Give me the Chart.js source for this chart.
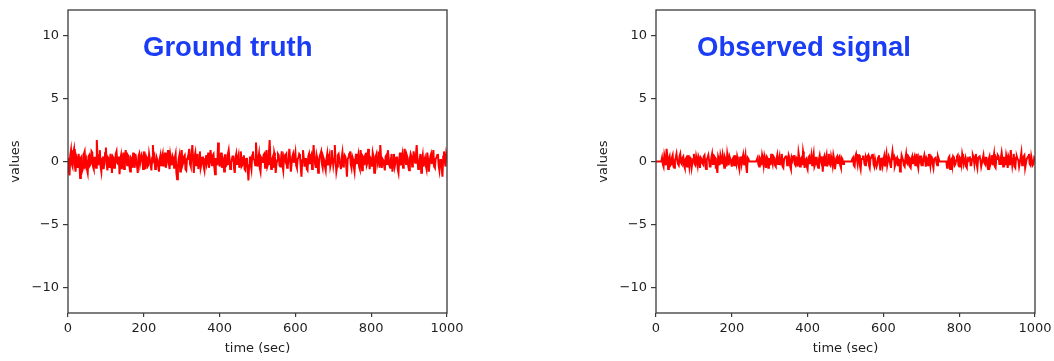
<!DOCTYPE html>
<html>
<head>
<meta charset="utf-8">
<script src="https://cdn.jsdelivr.net/npm/chart.js@4.4.0/dist/chart.umd.min.js"></script>
<style>
  html, body { margin: 0; padding: 0; background: #ffffff; }
  body { width: 1054px; height: 361px; position: relative; overflow: hidden; }
  canvas { position: absolute; top: 0; }
  #c1 { left: 0; }
  #c2 { left: 588px; }
</style>
</head>
<body>
<canvas id="c1" width="480" height="361"></canvas>
<canvas id="c2" width="466" height="361"></canvas>
<script>
// ---- data (one sample every 2 sec) ----
const timeStep = 2;
const groundTruth = [
  0.3,-0.6,-1.1,0.5,0.9,-0.2,-0.4,0.7,1.0,-0.3,-0.8,0.4,0.2,-0.5,0.6,0.1,-1.3,0.3,0.4,-0.7,
  -0.5,0.6,0.8,-0.2,0.1,-0.6,-0.9,0.4,0.5,-0.3,-0.2,0.8,0.7,-0.4,-0.6,0.3,0.3,-0.5,1.7,0.2,
  -0.3,0.5,0.9,-0.4,-0.8,0.2,0.4,-0.6,-0.1,0.7,1.1,-0.2,-0.7,0.3,0.2,-0.5,0.6,0.1,-0.9,0.4,
  0.3,-0.5,-0.4,0.6,0.8,-0.1,-0.2,0.4,-1.0,0.2,0.5,-0.6,0.1,0.7,-0.6,-0.2,0.9,0.3,-0.3,0.5,
  0.4,-0.4,-0.8,0.3,0.2,-0.5,0.7,0.1,-0.5,0.6,0.1,-0.3,-0.9,0.4,0.6,-0.2,-0.2,0.5,0.3,-0.6,
  0.8,0.1,-0.6,0.4,0.2,-0.4,-0.3,0.6,0.6,-0.2,-0.7,0.3,1.3,0.2,0.4,-0.6,-0.5,0.3,0.1,-0.4,
  -0.8,0.2,0.5,-0.3,0.3,0.6,-0.4,0.1,0.7,-0.5,-0.2,0.4,0.9,-0.1,-0.6,0.5,0.1,-0.3,0.4,0.2,
  -0.5,0.3,0.6,-0.9,-1.4,-0.4,0.2,0.5,-0.8,0.1,0.9,-0.3,-0.1,0.4,0.5,-0.6,-0.7,0.2,0.3,0.6,
  1.0,-0.2,-0.4,0.5,1.3,0.2,-0.9,0.4,0.7,-0.3,0.2,0.6,-0.6,0.1,0.8,-0.5,-0.2,0.3,0.4,-0.4,
  -0.7,0.2,0.5,-0.2,0.1,0.7,-0.5,-0.1,0.9,0.3,-0.3,0.5,0.6,-0.4,-1.0,0.2,0.2,-0.3,1.5,0.4,
  -0.4,0.3,0.7,-0.5,0.3,0.1,-0.8,0.5,0.5,-0.3,-0.2,0.6,0.9,0.2,-0.6,-0.1,0.1,0.4,0.4,-0.5,
  -0.9,0.3,0.6,-0.2,0.2,0.5,-0.5,0.1,0.8,-0.4,-0.3,0.3,0.5,-0.6,-0.7,0.2,0.3,-0.4,-1.5,-0.3,
  0.4,-0.2,-0.6,0.5,0.8,0.2,0.1,-0.3,1.5,0.4,-0.4,0.2,0.6,-0.5,-0.8,0.3,0.2,-0.1,0.5,0.6,
  -0.5,0.2,0.9,-0.4,-0.2,0.6,1.7,0.3,-0.6,0.1,0.3,-0.5,0.7,0.4,-0.9,-0.2,0.1,0.6,0.5,-0.3,
  -0.4,0.2,0.8,-0.3,-0.7,0.4,0.2,0.5,0.6,-0.5,-0.3,0.1,1.0,0.2,-0.8,-0.2,0.4,0.6,-0.1,0.3,
  0.7,-0.3,-0.5,0.2,0.3,0.6,0.5,-0.4,-1.2,0.1,0.9,0.3,-0.4,0.2,0.2,-0.6,-0.7,0.4,0.6,-0.2,
  0.3,0.5,-0.6,0.1,1.3,0.4,-0.2,-0.5,0.5,0.2,-0.9,-0.3,0.4,0.6,0.8,-0.2,-0.5,0.3,0.1,-0.4,
  -0.7,0.2,0.6,-0.3,0.2,0.5,-0.4,-0.1,0.9,0.3,-0.3,0.2,1.3,0.1,-0.8,-0.4,0.5,0.6,0.1,-0.2,
  -0.6,0.3,0.7,-0.4,-0.2,0.5,0.4,-0.3,-1.2,0.2,0.3,0.6,0.8,-0.2,-0.5,0.4,0.2,-0.4,-0.8,0.1,
  0.6,-0.2,0.1,0.5,-0.4,-0.6,0.9,0.2,-0.7,0.4,0.3,-0.3,0.5,0.7,-0.3,-0.1,1.0,0.2,-0.6,0.3,
  0.2,-0.4,0.7,0.4,-0.9,-0.2,0.4,0.6,-0.2,0.1,0.8,-0.5,1.3,0.3,-0.5,0.2,0.1,-0.3,-0.7,0.4,
  0.5,-0.2,0.9,0.3,-0.3,-0.5,0.2,0.6,-0.8,0.1,0.6,-0.4,-0.1,0.3,0.4,-0.6,-0.9,0.2,0.7,-0.3,
  0.1,0.5,-0.5,-0.2,1.0,0.3,-0.2,0.5,0.3,-0.4,-0.7,0.2,0.6,0.4,-0.4,-0.1,0.8,0.2,-0.1,0.5,
  1.3,0.2,-0.6,-0.3,0.2,0.6,-0.9,0.1,0.5,-0.4,0.1,0.3,-0.3,-0.6,0.7,0.2,-0.8,-0.2,0.4,0.6,
  -0.2,0.3,0.9,-0.4,-0.5,0.2,0.3,0.5,0.6,-0.3,-0.7,0.1,0.2,-0.5,-1.2,0.4,0.8,0.1,-0.4,0.6,
  0.3
];
const observedSignal = [
  0,0,0,0,0,0,0,0,0.3,-0.2,-0.4,0.5,0.2,-0.3,1.0,0.4,-0.6,0.2,0.4,-0.3,
  -0.2,0.3,0.5,-0.4,-0.5,0.1,0.3,0.6,0.1,-0.2,-0.3,0.4,0.6,-0.1,-0.2,0.3,0.4,-0.3,-0.5,0.2,
  0.3,-0.4,0.5,0.1,-0.4,0.3,0.2,-0.5,-0.1,0.2,0.6,-0.2,-0.3,0.4,0.1,-0.3,0.4,0.2,-0.5,0.3,
  0.2,-0.1,-0.2,0.4,0.5,-0.3,-0.6,0.2,0.3,0.5,0.1,-0.4,-0.4,0.3,0.6,-0.2,-0.2,0.4,0.3,-0.5,
  -0.5,-0.9,0.4,0.2,-0.3,0.5,0.2,-0.2,0.5,0.1,-0.5,0.3,0.1,-0.4,0.6,0.2,-0.3,0.4,0.2,-0.1,
  -0.4,0.2,0.3,-0.3,0.5,0.1,-0.2,0.4,0.1,-0.3,-0.6,0.3,0.4,-0.2,0.2,0.5,-0.3,0.1,0.5,-0.4,
  -0.9,0.3,0.2,0,0,0,0,0,0,0,0,0,0,0,0.3,-0.2,-0.4,0.3,0.2,-0.3,
  0.5,0.2,-0.3,0.4,0.1,-0.5,0.4,0.3,-0.5,0.2,0.2,-0.3,0.6,0.1,-0.2,0.4,0.3,-0.3,-0.4,0.2,
  0.5,-0.2,0.1,0.4,-0.3,0.3,0.6,-0.4,-0.5,0.2,0.2,0.4,0.4,-0.3,-0.2,0.5,0.3,-0.4,-0.6,0.3,
  0.1,0.4,0.5,-0.2,-0.3,0.3,0.2,-0.4,0.7,0.3,-0.4,0.2,0.3,-0.3,0.8,0.4,-0.5,0.1,0.2,-0.4,
  -0.6,0.3,0.4,-0.2,0.1,0.5,-0.3,0.2,0.6,-0.4,-0.2,0.3,0.3,-0.3,-0.5,0.2,0.5,0.1,-0.1,0.4,
  -0.8,0.2,0.4,-0.3,0.2,0.5,-0.4,0.1,0.6,-0.2,-0.3,0.4,0.1,-0.3,0.5,0.2,-0.6,-0.2,0.3,0.4,
  -0.2,0.3,0.4,-0.3,-0.5,0.3,0.2,-0.2,0,0,0,0,0,0,0,0,0,0,0,0.2,
  0.3,-0.3,-0.4,0.4,0.6,0.2,-0.2,0.5,0.5,-0.3,-0.6,0.2,0.2,0.4,0.4,-0.2,-0.3,0.3,0.1,0.4,
  0.5,-0.3,-0.5,0.3,0.3,0.5,0.6,-0.2,-0.4,0.2,0.2,-0.4,-0.2,0.3,0.5,-0.1,-0.7,0.2,0.3,-0.3,
  0.1,0.4,-0.4,0.2,0.6,-0.3,-0.3,0.4,0.2,-0.2,-0.5,0.3,0.8,0.3,0.4,-0.4,-0.2,0.2,0.3,-0.3,
  -0.3,0.2,-0.8,-0.2,0.5,0.3,0.1,-0.3,-0.4,0.2,0.6,-0.1,-0.2,0.4,0.3,-0.4,-0.5,0.2,0.4,-0.2,
  0.2,0.4,-0.3,0.1,0.6,-0.2,-0.5,0.3,0.1,0.4,0.4,-0.3,-0.2,0.2,0.5,0.1,-0.4,0.3,0.2,-0.3,
  0.6,0.2,-0.3,0.4,0.3,-0.2,-0.5,0.2,0.2,0.3,-0.1,-0.3,0.4,0.2,0,0,0,0,0,0,
  0,0,0,0,-0.5,-0.2,0.3,0.4,-0.6,0.1,0.2,-0.3,0.4,0.3,-0.3,-0.2,0.1,0.4,0.5,-0.3,
  -0.4,0.3,0.2,-0.2,0.6,0.3,-0.2,0.1,0.3,-0.4,-0.5,0.2,0.1,0.3,0.4,-0.3,-0.3,0.2,0.5,0.3,
  -0.2,0.4,0.6,-0.2,-0.5,0.3,0.3,0.4,0.1,-0.4,-0.4,0.2,0.5,-0.1,-0.2,0.3,0.3,-0.3,-0.6,0.2,
  0.4,-0.2,0.1,0.5,-0.3,0.2,0.6,-0.4,-0.5,0.3,0.2,0.5,0.4,-0.2,-0.2,0.3,0.7,0.2,-0.4,0.3,
  0.3,-0.3,0.5,0.2,-0.5,0.4,0.2,-0.3,0.9,0.3,-0.3,0.2,0.6,-0.4,-0.5,0.3,0.4,0.2,0.1,-0.4,
  -0.4,0.3,0.7,-0.3,-0.2,0.4,0.5,-0.5,-0.5,0.2,0.3,0.4,0.6,-0.2,-0.3,0.4,0.4,-0.3,-0.2,0.3,
  0.2
];
const xTickValues = [0, 200, 400, 600, 800, 1000];
const yTickValues = [-10, -5, 0, 5, 10];
const xRange = [0, 1000];
const yRange = [-12, 12];
const panelTitles = ['Ground truth', 'Observed signal'];
const xAxisLabel = 'time (sec)';
const yAxisLabel = 'values';

// ---- helpers ----
const tickFont = { family: 'DejaVu Sans', size: 13 };
const axisColor = '#3a3a3a';
const textColor = '#1e1e1e';

const framePlugin = {
  id: 'frame',
  afterDraw(chart) {
    const a = chart.chartArea, ctx = chart.ctx;
    ctx.save();
    ctx.strokeStyle = axisColor;
    ctx.lineWidth = 1.3;
    ctx.strokeRect(a.left, a.top, a.right - a.left, a.bottom - a.top);
    ctx.restore();
  }
};

const innerTitlePlugin = {
  id: 'innerTitle',
  afterDatasetsDraw(chart, args, opts) {
    const a = chart.chartArea, ctx = chart.ctx;
    ctx.save();
    ctx.font = 'bold 27.5px "Liberation Sans", Arial, sans-serif';
    ctx.fillStyle = '#1a3cf5';
    ctx.textBaseline = 'alphabetic';
    ctx.textAlign = 'left';
    ctx.fillText(opts.text, a.left + opts.dx, a.top + opts.dy);
    ctx.restore();
  }
};

function makeChart(canvasId, values, title, titleDx, rightPad) {
  const points = values.map((v, i) => ({ x: i * timeStep, y: v }));
  return new Chart(document.getElementById(canvasId), {
    type: 'line',
    data: {
      datasets: [{
        data: points,
        borderColor: '#ff0000',
        borderWidth: 2,
        pointRadius: 0,
        tension: 0,
        fill: false
      }]
    },
    options: {
      responsive: false,
      animation: false,
      devicePixelRatio: 1,
      layout: { padding: { left: 0, top: 10, right: rightPad, bottom: 0 } },
      plugins: {
        legend: { display: false },
        tooltip: { enabled: false },
        innerTitle: { text: title, dx: titleDx, dy: 46 }
      },
      scales: {
        x: {
          type: 'linear',
          min: xRange[0], max: xRange[1],
          afterBuildTicks(s) { s.ticks = xTickValues.map(v => ({ value: v })); },
          afterFit(s) { s.height = 48; s.paddingLeft = 0; s.paddingRight = 0; },
          border: { display: false },
          grid: { display: true, drawOnChartArea: false, drawTicks: true, tickLength: 4, color: axisColor, lineWidth: 1.2 },
          ticks: { font: tickFont, color: textColor, padding: 4, maxRotation: 0, autoSkip: false,
                   callback: v => String(v) },
          title: { display: true, text: xAxisLabel, font: tickFont, color: textColor, padding: { top: 0, bottom: 5 } }
        },
        y: {
          type: 'linear',
          min: yRange[0], max: yRange[1],
          afterBuildTicks(s) { s.ticks = yTickValues.map(v => ({ value: v })); },
          afterFit(s) { s.width = 68; s.paddingTop = 0; s.paddingBottom = 0; },
          border: { display: false },
          grid: { display: true, drawOnChartArea: false, drawTicks: true, tickLength: 5, color: axisColor, lineWidth: 1.2 },
          ticks: { font: tickFont, color: textColor, padding: 4, autoSkip: false,
                   callback: v => String(v).replace('-', '\u2212') },
          title: { display: true, text: yAxisLabel, font: tickFont, color: textColor, padding: { top: 8, bottom: 0 } }
        }
      }
    },
    plugins: [framePlugin, innerTitlePlugin]
  });
}

makeChart('c1', groundTruth, panelTitles[0], 75, 33);
makeChart('c2', observedSignal, panelTitles[1], 41, 19);
</script>
</body>
</html>
